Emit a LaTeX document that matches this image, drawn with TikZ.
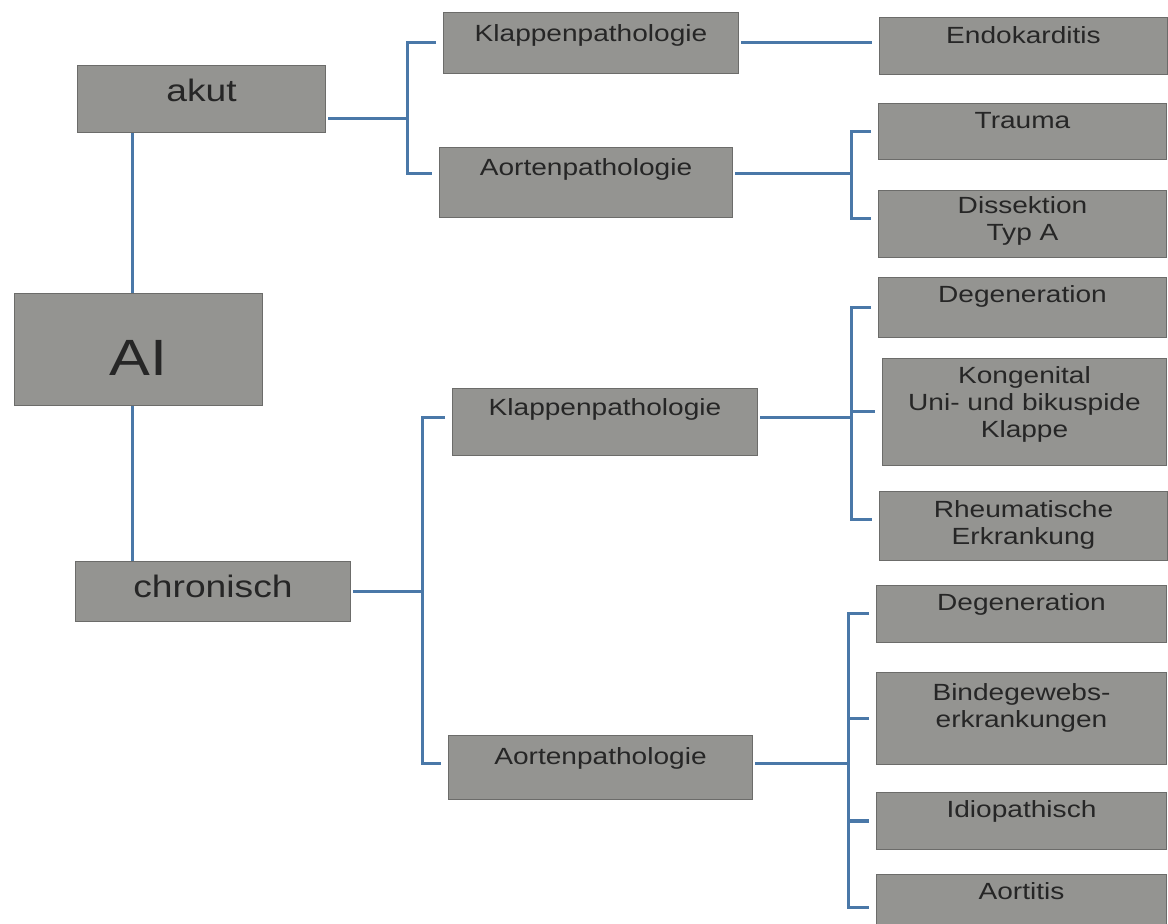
\documentclass[tikz,border=0pt]{standalone}
\usepackage{fontspec}
\usepackage{tikz}
\usetikzlibrary{
  positioning,
  calc
}
\newfontfamily\boxfont{Liberation Sans}[FakeStretch=1.2]
\definecolor{BoxGray}{RGB}{148, 148, 145}
\definecolor{EdgeGray}{RGB}{108, 108, 106}
\definecolor{TextDark}{RGB}{38, 38, 38}
\definecolor{LinkBlue}{RGB}{74, 120, 168}
\tikzset{
    diagbox/.style={
        rectangle, fill=BoxGray, draw=EdgeGray, line width=0.5pt,
        anchor=north west, inner sep=0pt, align=center, text=TextDark,
        text width=144pt, text height=12.5pt,
        font=\boxfont\fontsize{11.7}{13.5}\selectfont
    },
    bigbox/.style={diagbox, text height=18pt,
        font=\boxfont\fontsize{15.5}{18}\selectfont},
    branch/.style={draw=LinkBlue, line width=1.5pt},
    tick/.style={branch, shorten <=3.5pt, shorten >=3.5pt},
}

\begin{document}
\begin{tikzpicture}[x=0.5pt, y=-0.5pt]
    \useasboundingbox (0,0) rectangle (1168,924);

    % linke Spalte
    \node[bigbox, text width=124pt, text depth=15.5pt] (akut) at (77,65) {akut};
    \node[diagbox, text width=124pt, text height=41pt, text depth=15pt,
          font=\boxfont\fontsize{25.5}{30}\selectfont] (AI) at (14,293) {AI};
    \node[bigbox, text width=137.5pt, text depth=12pt] (chron) at (75,561) {chronisch};

    % mittlere Spalte
    \node[diagbox, text width=147.5pt, text height=14.5pt, text depth=16pt] (kA) at (443,12) {Klappenpathologie};
    \node[diagbox, text width=146.5pt, text height=14pt, text depth=21pt] (aA) at (439,147) {Aortenpathologie};
    \node[diagbox, text width=152.5pt, text height=13.5pt, text depth=20pt] (kC) at (452,388) {Klappenpathologie};
    \node[diagbox, text width=152pt, text height=14.5pt, text depth=17.5pt] (aC) at (448,735) {Aortenpathologie};

    % rechte Spalte
    \node[diagbox, text height=13pt, text depth=15.5pt] (endo) at (879,17) {Endokarditis};
    \node[diagbox, text depth=15.5pt] (trauma) at (878,103) {Trauma};
    \node[diagbox, text height=11.5pt, text depth=22pt] (diss) at (878,190) {Dissektion\\Typ A};
    \node[diagbox, text depth=17.5pt] (degK) at (878,277) {Degeneration};
    \node[diagbox, text width=142pt, text depth=41pt] (kong) at (882,358) {Kongenital\\Uni- und bikuspide\\Klappe};
    \node[diagbox, text height=13pt, text depth=21.5pt] (rheum) at (879,491) {Rheumatische\\Erkrankung};
    \node[diagbox, text width=145pt, text depth=16pt] (degA) at (876,585) {Degeneration};
    \node[diagbox, text width=145pt, text height=14pt, text depth=32pt] (binde) at (876,672) {Bindegewebs-\\erkrankungen};
    \node[diagbox, text width=145pt, text depth=16pt] (idio) at (876,792) {Idiopathisch};
    \node[diagbox, text width=145pt, text depth=20pt] (aortitis) at (876,874) {Aortitis};

    \coordinate (sAkut) at (407,0);
    \coordinate (sAortA) at (851,0);
    \coordinate (sChron) at (422,0);
    \coordinate (sKlapC) at (851,0);
    \coordinate (sAortC) at (848,0);

    \draw[branch] ([xshift=-3pt]AI.north) -- ([xshift=-3pt]AI.north |- akut.south);
    \draw[branch] ([xshift=-3pt]AI.south) -- ([xshift=-3pt]AI.south |- chron.north);

    \draw[branch, shorten <=1pt] ([yshift=7pt]akut.south east) -- ([yshift=7pt]akut.south east -| sAkut);
    \draw[tick] (kA.west) -- (kA.west -| sAkut) -- ([yshift=4.5pt]aA.west -| sAkut) -- ([yshift=4.5pt]aA.west);

    \draw[branch, shorten <=1pt, shorten >=3.5pt] (kA.east) -- (kA.east -| endo.west);

    \draw[branch, shorten <=1pt] ([yshift=4.5pt]aA.east) -- ([yshift=4.5pt]aA.east -| sAortA);
    \draw[tick] (trauma.west) -- (trauma.west -| sAortA) -- ([yshift=2.5pt]diss.west -| sAortA) -- ([yshift=2.5pt]diss.west);

    \draw[branch, shorten <=1pt] (chron.east) -- (chron.east -| sChron);
    \draw[tick] ([yshift=2pt]kC.west) -- ([yshift=2pt]kC.west -| sChron) -- ([yshift=2pt]aC.west -| sChron) -- ([yshift=2pt]aC.west);

    \draw[branch, shorten <=1pt] ([yshift=2pt]kC.east) -- ([yshift=2pt]kC.east -| sKlapC);
    \draw[tick] (degK.west) -- (degK.west -| sKlapC) -- ([yshift=3pt]rheum.west -| sKlapC) -- ([yshift=3pt]rheum.west);
    \draw[branch, shorten >=3.5pt] (kong.west -| sKlapC) -- (kong.west);

    \draw[branch, shorten <=1pt] ([yshift=2pt]aC.east) -- ([yshift=2pt]aC.east -| sAortC);
    \draw[tick] (degA.west) -- (degA.west -| sAortC) -- (aortitis.west -| sAortC) -- (aortitis.west);
    \foreach \kind in {binde, idio}
        \draw[branch, shorten >=3.5pt] (\kind.west -| sAortC) -- (\kind.west);
\end{tikzpicture}
\end{document}
